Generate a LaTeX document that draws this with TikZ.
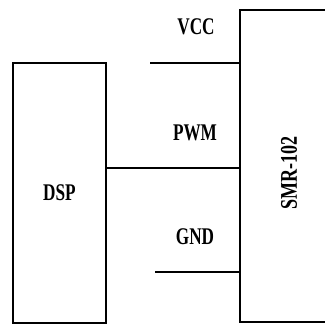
\documentclass[tikz,border=0pt]{standalone}
\usepackage{fontspec}
\setmainfont{Liberation Serif}[FakeStretch=0.72]
\usetikzlibrary{positioning}

\begin{document}
\begin{tikzpicture}[x=0.25mm, y=-0.25mm, line width=1.1pt,
 every node/.style={align=center, font=\fontsize{17}{19}\selectfont\bfseries},
 blk/.style={draw, rectangle, inner sep=0pt},
 pin/.style={draw=none, inner sep=1pt}]
\clip (0,0) rectangle (325,325);
\node[blk, minimum width=23.25mm, minimum height=65mm] (dsp) at (59.5,193) {DSP};
\node[blk, minimum width=25mm, minimum height=78mm] (smr) at (290,166) {};
\node[pin] (smrlbl) at (289,173) {\rotatebox{90}{\scalebox{1.05}[1]{SMR-102}}};
\coordinate (vcc) at (150,63);
\coordinate (pwm) at (106,168);
\coordinate (gnd) at (155,272);
\node[pin] (vcclbl) at (196,27) {VCC};
\node[pin] (pwmlbl) at (195,133) {PWM};
\node[pin] (gndlbl) at (195,237) {GND};
\draw (vcc) -- (vcc -| smr.west);
\draw (dsp.east |- pwm) -- (pwm -| smr.west);
\draw (gnd) -- (gnd -| smr.west);
\end{tikzpicture}
\end{document}
